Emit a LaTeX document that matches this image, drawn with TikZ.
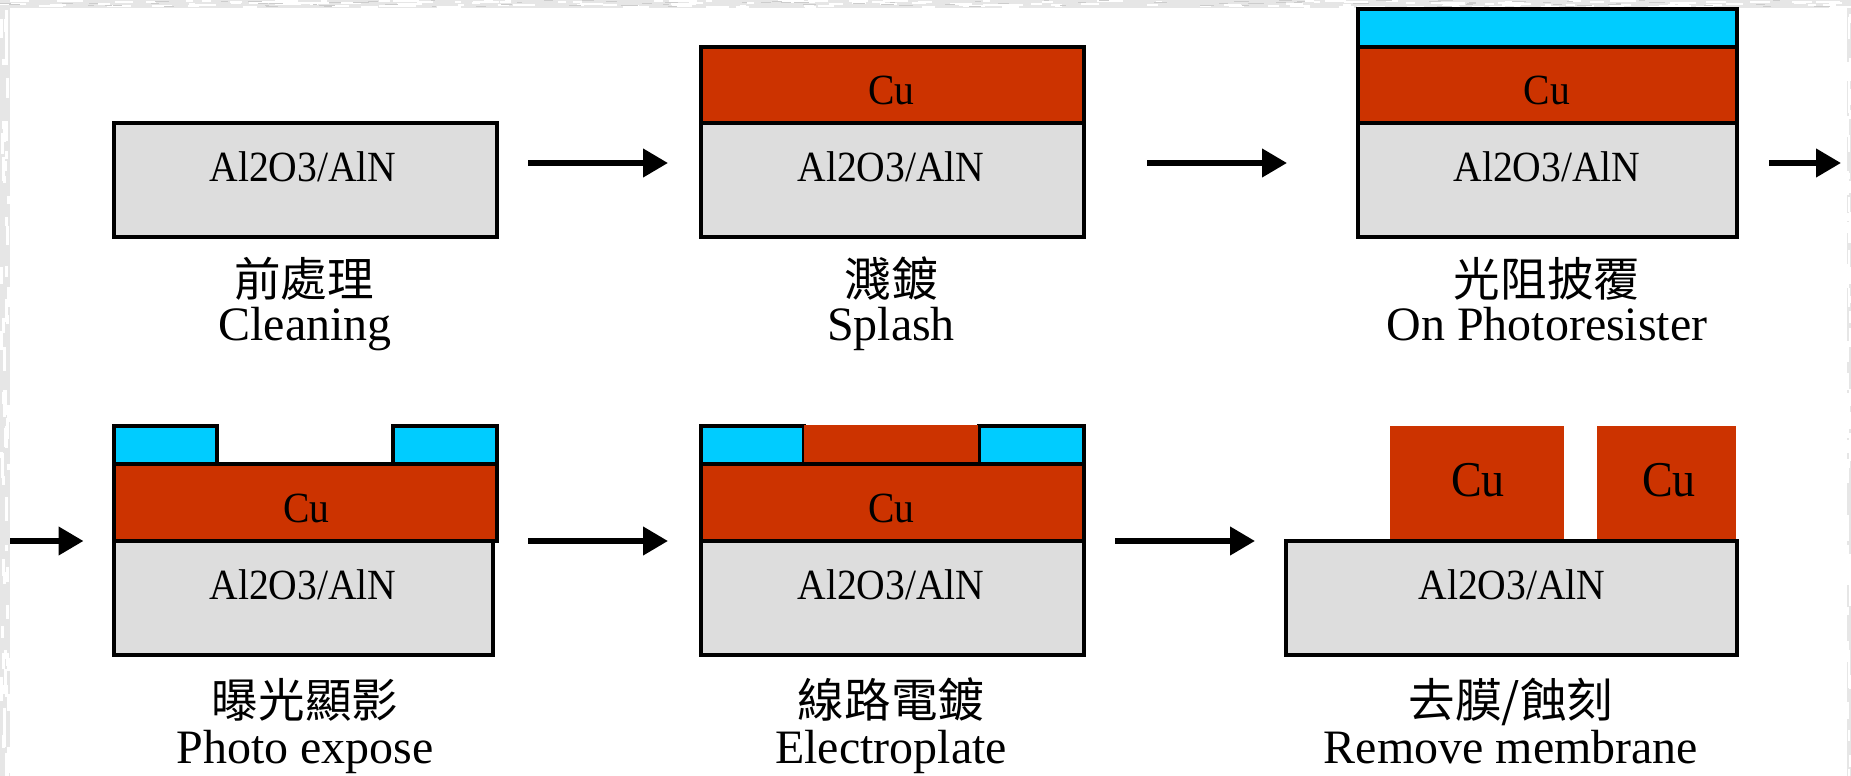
\documentclass[tikz,border=0pt]{standalone}
\usepackage{fontspec}
\usepackage{graphicx}
\setmainfont{Liberation Serif}
\newfontfamily\cjk{Noto Sans CJK TC}
\usetikzlibrary{arrows.meta}
\definecolor{subgray}{HTML}{DDDDDD}
\definecolor{cured}{HTML}{CC3300}
\definecolor{resist}{HTML}{00CCFF}
\definecolor{mottle}{HTML}{E6E6E6}
\newcommand{\subtext}[1]{\scalebox{0.92}[1]{#1}}
\newcommand{\layerbox}[7]{% name, style, x0, y0, x1, y1
  \node[#2,minimum width={(#5-#3)*0.02cm},minimum height={(#6-#4)*0.02cm}] (#1) at (#3,#4) {#7};}
\tikzset{
  layerbase/.style={anchor=north west,inner sep=0pt,outer sep=0pt,line width=0.08cm,draw=black},
  substrate/.style={layerbase,fill=subgray},
  copper/.style={layerbase,fill=cured},
  resistlayer/.style={layerbase,fill=resist},
  plated/.style={anchor=north west,inner sep=0pt,outer sep=0pt,fill=cured},
  flowarrow/.style={line width=0.115cm,-{Triangle[length=0.5cm,width=0.55cm]}},
  matlabel/.style={anchor=base,inner sep=0pt,font=\fontsize{24.5pt}{28pt}\selectfont},
  biglabel/.style={anchor=base,inner sep=0pt,font=\fontsize{28.5pt}{32pt}\selectfont},
  zhcap/.style={anchor=base,inner sep=0pt,font=\cjk\fontsize{26.5pt}{30pt}\selectfont},
  encap/.style={anchor=base,inner sep=0pt,font=\fontsize{27.3pt}{31pt}\selectfont}
}
\begin{document}
\begin{tikzpicture}[x=0.02cm,y=-0.02cm]
\useasboundingbox (0,0) rectangle (1851,776);
% page with mottled frame
\fill[mottle] (0,0) rectangle (1851,776);
\pgfmathsetseed{11}
\foreach \i in {1,...,170}{
  \pgfmathsetmacro\xa{random(0,1830)}
  \pgfmathsetmacro\ya{random(0,6)}
  \pgfmathsetmacro\wa{random(6,26)}
  \fill[white] (\xa,\ya) rectangle ++(\wa,2);
}
\foreach \i in {1,...,90}{
  \pgfmathsetmacro\xa{random(0,1830)}
  \pgfmathsetmacro\ya{random(0,6)}
  \pgfmathsetmacro\wa{random(4,16)}
  \fill[black!20] (\xa,\ya) rectangle ++(\wa,1.5);
}
\foreach \i in {1,...,70}{
  \pgfmathsetmacro\ya{random(0,770)}
  \pgfmathsetmacro\xa{random(0,7)}
  \pgfmathsetmacro\ha{random(6,24)}
  \fill[white] (\xa,\ya) rectangle ++(3,\ha);
  \pgfmathsetmacro\yb{random(0,770)}
  \pgfmathsetmacro\xb{random(1847,1849)}
  \fill[white] (\xb,\yb) rectangle ++(2,\ha);
}
\fill[white] (10,8) rectangle (1847,776);

% row 1, step 1
\layerbox{a1}{substrate}{114}{123}{497}{237}{}
\node[matlabel] (a1t) at (303,181.7) {\subtext{Al2O3/AlN}};
\node[zhcap] (a1z) at (304,297) {前處理};
\node[encap] (a1e) at (305,340.7) {Cleaning};

% row 1, step 2
\layerbox{b1}{substrate}{701}{123}{1084}{237}{}
\layerbox{b2}{copper}{701}{47}{1084}{123}{}
\node[matlabel] (b1t) at (891,181.7) {\subtext{Al2O3/AlN}};
\node[matlabel] (b2t) at (891.5,105) {\subtext{Cu}};
\node[zhcap] (b1z) at (891,297) {濺鍍};
\node[encap] (b1e) at (891,340.7) {Splash};

% row 1, step 3
\layerbox{c1}{substrate}{1358}{123}{1736.5}{237}{}
\layerbox{c2}{copper}{1358}{47}{1736.5}{123}{}
\layerbox{c3}{resistlayer}{1358}{9.5}{1736.5}{47}{}
\node[matlabel] (c1t) at (1547,181.7) {\subtext{Al2O3/AlN}};
\node[matlabel] (c2t) at (1547,105) {\subtext{Cu}};
\node[zhcap] (c1z) at (1547,297) {光阻披覆};
\node[encap] (c1e) at (1547,340.7) {On Photoresister};

% row 2, step 4
\layerbox{d1}{substrate}{114}{541}{493}{655}{}
\layerbox{d3}{resistlayer}{114}{426}{217}{464}{}
\layerbox{d4}{resistlayer}{393}{426}{497}{464}{}
\layerbox{d2}{copper}{114}{464}{497}{541}{}
\node[matlabel] (d1t) at (303,599) {\subtext{Al2O3/AlN}};
\node[matlabel] (d2t) at (306.5,522) {\subtext{Cu}};
\node[zhcap] (d1z) at (305,717) {曝光顯影};
\node[encap] (d1e) at (305,763) {Photo expose};

% row 2, step 5
\layerbox{e1}{substrate}{701}{541}{1084}{655}{}
\layerbox{e3}{resistlayer}{701}{426}{804}{464}{}
\layerbox{e4}{resistlayer}{979}{426}{1084}{464}{}
\layerbox{e5}{plated}{804}{425}{978}{464}{}
\layerbox{e2}{copper}{701}{464}{1084}{541}{}
\node[matlabel] (e1t) at (891,599) {\subtext{Al2O3/AlN}};
\node[matlabel] (e2t) at (891.5,522) {\subtext{Cu}};
\node[zhcap] (e1z) at (891,717) {線路電鍍};
\node[encap] (e1e) at (891,763) {Electroplate};

% row 2, step 6
\layerbox{f2}{plated}{1389.5}{425.5}{1564}{541}{}
\layerbox{f3}{plated}{1596.5}{425.5}{1736}{541}{}
\layerbox{f1}{substrate}{1286}{541}{1737}{655}{}
\node[matlabel] (f1t) at (1512,599) {\subtext{Al2O3/AlN}};
\node[biglabel] (f2t) at (1478,496.7) {\subtext{Cu}};
\node[biglabel] (f3t) at (1669,496.7) {\subtext{Cu}};
\node[zhcap] (f1z) at (1511,717) {去膜/蝕刻};
\node[encap] (f1e) at (1511,763) {Remove membrane};

% connectors
\coordinate (s1) at (528,163);    \coordinate (t1) at (668,163);
\coordinate (s2) at (1147,163);   \coordinate (t2) at (1287,163);
\coordinate (s3) at (1769,163);   \coordinate (t3) at (1841,163);
\coordinate (s4) at (10,541);     \coordinate (t4) at (83.5,541);
\coordinate (s5) at (528,541);    \coordinate (t5) at (668,541);
\coordinate (s6) at (1115,541);   \coordinate (t6) at (1255,541);
\draw[flowarrow] (s1) -- (t1);
\draw[flowarrow] (s2) -- (t2);
\draw[flowarrow] (s3) -- (t3);
\draw[flowarrow] (s4) -- (t4);
\draw[flowarrow] (s5) -- (t5);
\draw[flowarrow] (s6) -- (t6);
\end{tikzpicture}
\end{document}
